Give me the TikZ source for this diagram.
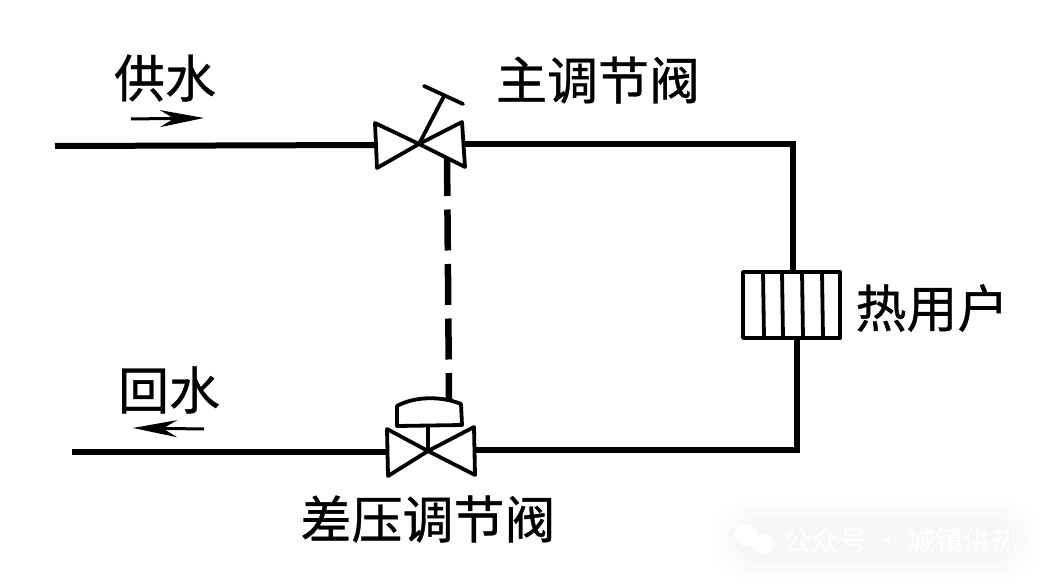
\documentclass[tikz,border=0pt]{standalone}
\usepackage{fontspec}
\setmainfont{Noto Sans CJK SC}
\newfontfamily\labelfont[FakeBold=0.7]{Noto Sans CJK SC}
\usetikzlibrary{arrows.meta}
\tikzset{
  x=1pt,y=-1pt,
  pipe/.style={line width=6pt,line join=miter},
  thin line/.style={line width=3.8pt,line join=round,line cap=round},
  label text/.style={font=\labelfont\fontsize{51}{53}\selectfont,text=black,inner sep=0pt},
  mark text/.style={font=\fontsize{28}{30}\selectfont,text=white,inner sep=0pt},
  link/.style={line width=6.5pt,dash pattern=on 41pt off 13.5pt},
  flow/.style={line width=3pt,-{Stealth[length=44pt,width=17pt,inset=14pt]}},
  halo/.style={fill=black,fill opacity=0.009,rounded corners=30pt}
}
\begin{document}
\begin{tikzpicture}
\useasboundingbox (0,0) rectangle (1048,583);
\fill[white] (0,0) rectangle (1048,583);
% watermark
\fill[halo] (712,502) rectangle (1040,578);
\fill[halo] (720,508) rectangle (1034,572);
\fill[halo] (726,514) rectangle (1028,566);
\fill[halo] (732,518) rectangle (1022,562);
\node[mark text,anchor=west] (wm) at (783,541) {公众号 · 城镇供热};
\fill[white] (746,535) ellipse (12 and 10.5);
\fill[white] (762,544) ellipse (11 and 9.5);
% named points
\coordinate (src) at (55,146);
\coordinate (topL) at (376,145);
\coordinate (topC) at (419,144);
\coordinate (topR) at (465,144);
\coordinate (cornerTR) at (793,144);
\coordinate (radT) at (793,272);
\coordinate (radB) at (797,338);
\coordinate (cornerBR) at (797,450);
\coordinate (botR) at (475,450);
\coordinate (botC) at (428,451);
\coordinate (botL) at (388,452);
\coordinate (sink) at (72,452);
\coordinate (handle) at (444,96);
\coordinate (handleA) at (424,86);
\coordinate (handleB) at (463,104);
\coordinate (linkTop) at (447,155);
\coordinate (linkBot) at (449,399);
\coordinate (capBase) at (428,426);
% pipes
\draw[pipe] (src) -- (topL);
\draw[pipe] (topR) -- (cornerTR) -- (radT);
\draw[pipe] (radB) -- (cornerBR) -- (botR);
\draw[pipe] (botL) -- (sink);
% link
\draw[link] (linkTop) -- (linkBot);
% top valve
\draw[thin line,fill=white] (375,123) -- (topC) -- (377,168) -- cycle;
\draw[thin line,fill=white] (462,122) -- (topC) -- (465,167) -- cycle;
\draw[thin line] (topC) -- (handle);
\draw[thin line] (handleA) -- (handleB);
% bottom valve
\draw[thin line,fill=white] (387,429) -- (botC) -- (388,476) -- cycle;
\draw[thin line,fill=white] (474,427) -- (botC) -- (475,475) -- cycle;
\draw[thin line] (capBase) -- (botC);
\draw[thin line,fill=white] (397,426) -- (397,406) .. controls (415,396) and (442,396) .. (461,404) -- (462,425) -- cycle;
% radiator
\draw[thin line,fill=white] (743,272) rectangle (840,338);
\draw[thin line] (763,272) -- (764,338);
\draw[thin line] (782,272) -- (783,338);
\draw[thin line] (802,272) -- (803,338);
\draw[thin line] (822,272) -- (823,338);
% flow arrows
\coordinate (f1a) at (131,119);
\coordinate (f1b) at (204,118);
\coordinate (f2a) at (204,429);
\coordinate (f2b) at (133,428);
\draw[flow] (f1a) -- (f1b);
\draw[flow] (f2a) -- (f2b);
% labels
\node[label text] (supply) at (165,78) {供水};
\node[label text] (ret) at (169,390) {回水};
\node[label text] (mainv) at (598,80) {主调节阀};
\node[label text] (user) at (932,308) {热用户};
\node[label text] (dpv) at (428,519) {差压调节阀};
\end{tikzpicture}
\end{document}
